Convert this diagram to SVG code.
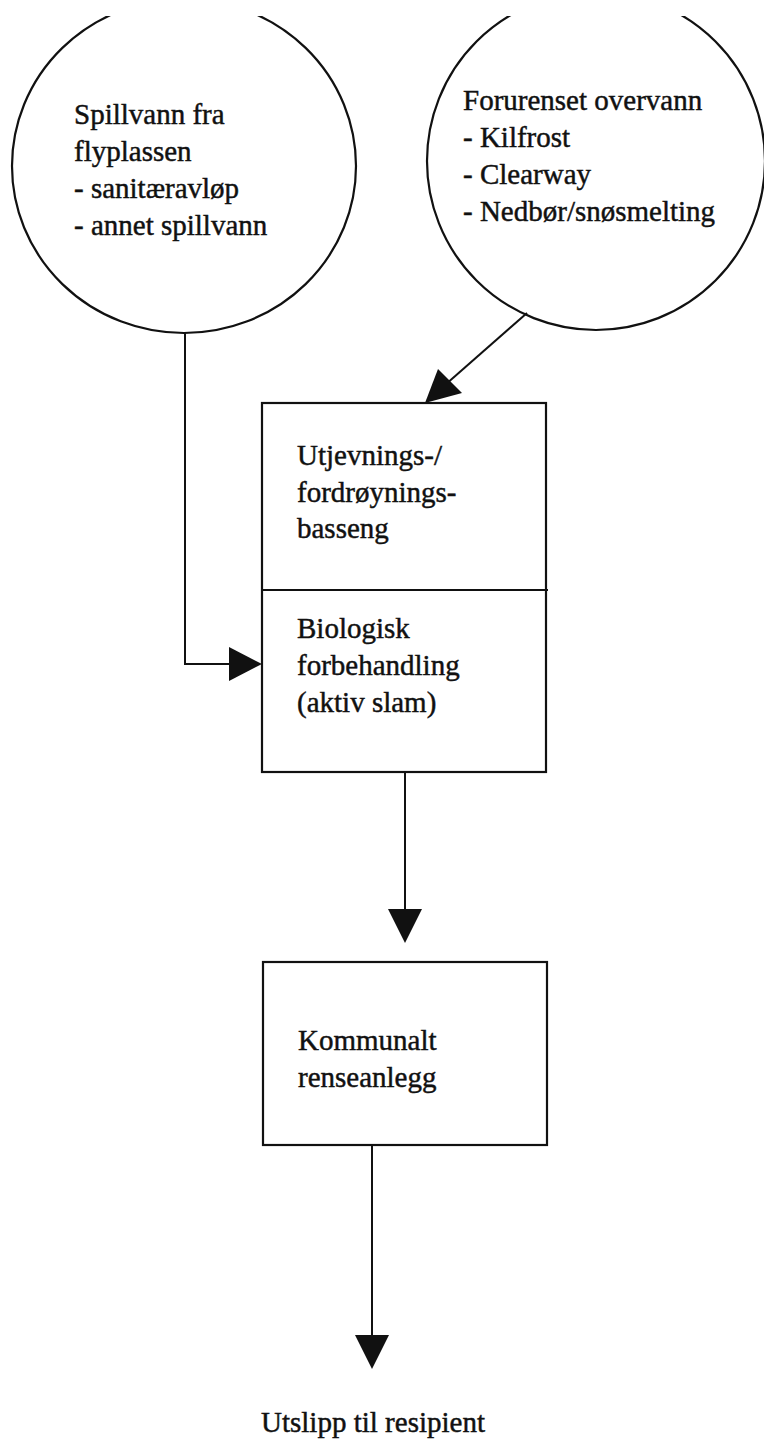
<svg xmlns="http://www.w3.org/2000/svg" width="764" height="1440" viewBox="0 0 764 1440">
<style>
.shape{fill:none;stroke:#111;stroke-width:2.2}
.conn{fill:none;stroke:#111;stroke-width:2}
.head{fill:#111;stroke:none}
text{font-family:"Liberation Serif","Times New Roman",serif;font-size:29px;fill:#111;stroke:#111;stroke-width:0.45}
</style>
<defs>
<clipPath id="pageclip"><rect x="0" y="16" width="764" height="1424"/></clipPath>
</defs>
<rect width="764" height="1440" fill="#fff"/>
<g id="node-spillvann" clip-path="url(#pageclip)">
<ellipse class="shape" cx="184" cy="166" rx="172" ry="167"/>
<text x="74" y="124">Spillvann fra</text>
<text x="74" y="161">flyplassen</text>
<text x="74" y="198">- sanitæravløp</text>
<text x="74" y="235">- annet spillvann</text>
</g>
<g id="node-overvann" clip-path="url(#pageclip)">
<circle class="shape" cx="596" cy="161" r="169"/>
<text x="463" y="110">Forurenset overvann</text>
<text x="463" y="147">- Kilfrost</text>
<text x="463" y="184">- Clearway</text>
<text x="463" y="221">- Nedbør/snøsmelting</text>
</g>
<g id="node-basseng">
<rect class="shape" x="262" y="403" width="284" height="369"/>
<line class="shape" x1="262" y1="590" x2="548" y2="590"/>
<text x="297" y="465">Utjevnings-/</text>
<text x="297" y="502">fordrøynings-</text>
<text x="297" y="538">basseng</text>
<text x="297" y="638">Biologisk</text>
<text x="297" y="675">forbehandling</text>
<text x="297" y="712">(aktiv slam)</text>
</g>
<g id="node-kommunalt">
<rect class="shape" x="263" y="962" width="284" height="183"/>
<text x="298" y="1050">Kommunalt</text>
<text x="298" y="1087">renseanlegg</text>
</g>
<g id="node-utslipp">
<text x="373" y="1432" text-anchor="middle">Utslipp til resipient</text>
</g>
<g id="connectors">
<polyline class="conn" points="185,333 185,664 232,664"/>
<polygon class="head" points="262,664 229,647 229,681"/>
<line class="conn" x1="527" y1="313" x2="445" y2="385"/>
<polygon class="head" points="425,403 438,369 462,393"/>
<line class="conn" x1="405" y1="772" x2="405" y2="912"/>
<polygon class="head" points="405,943 388,909 422,909"/>
<line class="conn" x1="372" y1="1145" x2="372" y2="1338"/>
<polygon class="head" points="372,1369 355,1335 389,1335"/>
</g>
</svg>
